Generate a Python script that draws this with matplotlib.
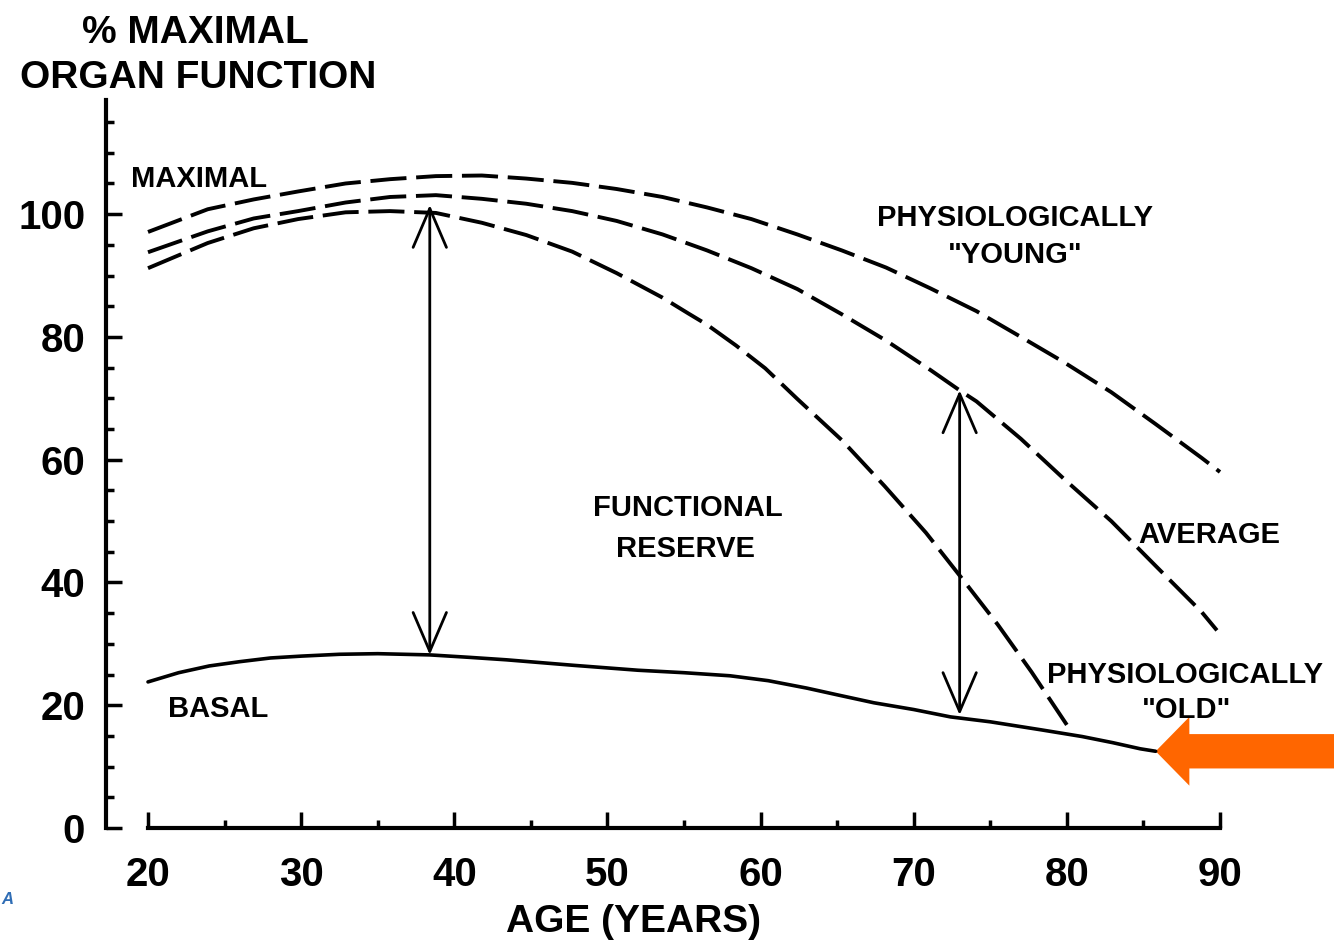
import matplotlib
matplotlib.use('Agg')
import matplotlib.pyplot as plt
from matplotlib.patches import FancyArrow, FancyArrowPatch
from matplotlib.ticker import MultipleLocator

plt.rcParams['font.family'] = ['Liberation Sans', 'DejaVu Sans']
plt.rcParams['font.weight'] = 'bold'
plt.rcParams['lines.scale_dashes'] = False

# ---- data ----
young_age = [20, 23.9, 26.9, 29.8, 32.9, 35.8, 38.8, 41.8, 44.7, 47.7, 50.6, 53.6,
             56.5, 59.4, 62.4, 65.3, 68.2, 71.1, 74.1, 77.0, 79.8, 82.9, 85.8, 88.8, 90.0]
young_val = [97.1, 100.8, 102.4, 103.7, 105.0, 105.7, 106.2, 106.3, 105.8, 105.1, 104.1, 102.8,
             101.1, 99.2, 96.7, 94.1, 91.3, 87.9, 84.2, 80.0, 75.9, 71.0, 65.8, 60.3, 58.0]

avg_age = [20, 23.9, 26.9, 29.8, 32.9, 35.8, 38.8, 41.8, 44.7, 47.7, 50.6, 53.6,
           56.5, 59.4, 62.4, 65.3, 68.2, 71.1, 73.0, 74.1, 77.0, 79.8, 82.9, 85.8, 88.8, 89.8]
avg_val = [93.8, 97.2, 99.3, 100.5, 101.9, 102.8, 103.1, 102.5, 101.7, 100.5, 98.9, 96.7,
           94.1, 91.2, 87.8, 83.7, 79.4, 74.6, 71.3, 69.5, 63.4, 56.9, 50.0, 42.7, 35.2, 32.2]

old_age = [20, 23.9, 26.9, 29.8, 32.9, 35.8, 38.8, 41.8, 44.7, 47.7, 50.6, 53.6,
           55.3, 56.5, 58.4, 60.3, 62.4, 65.3, 68.1, 70.8, 73.2, 75.5, 77.7, 80.0]
old_val = [91.2, 95.3, 97.7, 99.2, 100.3, 100.5, 100.2, 98.6, 96.6, 93.9, 90.4, 86.4,
           83.8, 82.0, 78.6, 74.9, 69.9, 63.2, 55.7, 48.1, 40.5, 33.1, 25.4, 16.8]

basal_age = [20, 22, 24, 26, 28, 30, 32.5, 35, 38.4, 41, 43.4, 47.8, 52, 55, 58,
             60.5, 63, 65, 67.4, 70, 72.4, 75, 78.3, 81, 83, 84.8, 85.8]
basal_val = [23.8, 25.3, 26.4, 27.1, 27.7, 28.0, 28.3, 28.4, 28.2, 27.8, 27.4, 26.5, 25.7, 25.3, 24.8,
             24.0, 22.8, 21.7, 20.4, 19.3, 18.1, 17.3, 16.0, 14.9, 13.9, 12.9, 12.5]

# functional reserve arrows: (age, basal end, maximal end)
reserve_age = [38.4, 73.0]
reserve_low = [28.2, 18.4]
reserve_high = [101.5, 71.3]

x_ticks = [20, 30, 40, 50, 60, 70, 80, 90]
y_ticks = [0, 20, 40, 60, 80, 100]

# ---- figure ----
fig = plt.figure(figsize=(13.34, 9.42), dpi=100)
ax = fig.add_axes([106/1334, 114/942, (1250-106)/1334, (828-100)/942])
ax.set_xlim(17.257, 91.96)
ax.set_ylim(0, 118.6)

dash = dict(color='black', lw=2.8, dashes=(26, 7), dash_capstyle='butt')
ax.plot(young_age, young_val, **dash)
ax.plot(avg_age, avg_val, **dash)
ax.plot(old_age, old_val, **dash)
ax.plot(basal_age, basal_val, color='black', lw=2.6, solid_capstyle='round')

for a, lo, hi in zip(reserve_age, reserve_low, reserve_high):
    ax.add_patch(FancyArrowPatch((a, lo), (a, hi),
                                 arrowstyle='<->,head_length=1.4,head_width=0.6',
                                 mutation_scale=20, lw=2.0, color='black',
                                 shrinkA=0, shrinkB=0))

# orange pointer to the end of the basal curve
tip_x, tip_y = basal_age[-1], basal_val[-1]
tail_x = 97.5
ax.add_patch(FancyArrow(tail_x, tip_y, tip_x - tail_x, 0, width=5.6, head_width=11.2,
                        head_length=2.2, length_includes_head=True, color='#FF6600',
                        clip_on=False, lw=0))

# spines / ticks
for s in ['top', 'right']:
    ax.spines[s].set_visible(False)
ax.spines['left'].set_linewidth(3)
ax.spines['bottom'].set_linewidth(3)
ax.spines['left'].set_bounds(0, 118.6)
ax.spines['bottom'].set_bounds(20, 90)

ax.set_xticks(x_ticks)
ax.set_yticks(y_ticks)
ax.xaxis.set_minor_locator(MultipleLocator(5))
ax.yaxis.set_minor_locator(MultipleLocator(5))
ax.set_xticklabels([str(v) for v in x_ticks])
ax.set_yticklabels([str(v) for v in y_ticks])
ax.tick_params(which='major', direction='in', length=11.5, width=2.5, labelsize=29)
ax.tick_params(which='minor', direction='in', length=6, width=2.5)
ax.tick_params(axis='y', which='major', pad=15)
ax.tick_params(axis='x', which='major', pad=20)
for lab in ax.get_xticklabels() + ax.get_yticklabels():
    lab.set_fontweight('bold')

# annotations
lab_kw = dict(fontsize=21, fontweight='bold', ha='center', va='center_baseline')
ax.text(23.33, 106.2, 'MAXIMAL', **lab_kw)
ax.text(76.61, 99.8, 'PHYSIOLOGICALLY', **lab_kw)
ax.text(76.61, 93.8, '"YOUNG"', **lab_kw)
ax.text(55.26, 52.6, 'FUNCTIONAL', **lab_kw)
ax.text(55.07, 45.9, 'RESERVE', **lab_kw)
ax.text(89.28, 48.2, 'AVERAGE', **lab_kw)
ax.text(87.72, 25.4, 'PHYSIOLOGICALLY', clip_on=False, **lab_kw)
ax.text(87.85, 19.7, '"OLD"', **lab_kw)
ax.text(24.57, 19.9, 'BASAL', **lab_kw)

fig.text(195/1334, 1 - 29/942, '% MAXIMAL', fontsize=28, fontweight='bold',
         ha='center', va='center_baseline')
fig.text(198.5/1334, 1 - 74/942, 'ORGAN FUNCTION', fontsize=28, fontweight='bold',
         ha='center', va='center_baseline')
fig.text(633/1334, 1 - 918/942, 'AGE (YEARS)', fontsize=28, fontweight='bold',
         ha='center', va='center_baseline')
fig.text(0.001, 1 - 898/942, 'A', fontsize=12, color='#2f6db5', style='italic',
         ha='left', va='center_baseline')

fig.savefig('out.png', dpi=100)
